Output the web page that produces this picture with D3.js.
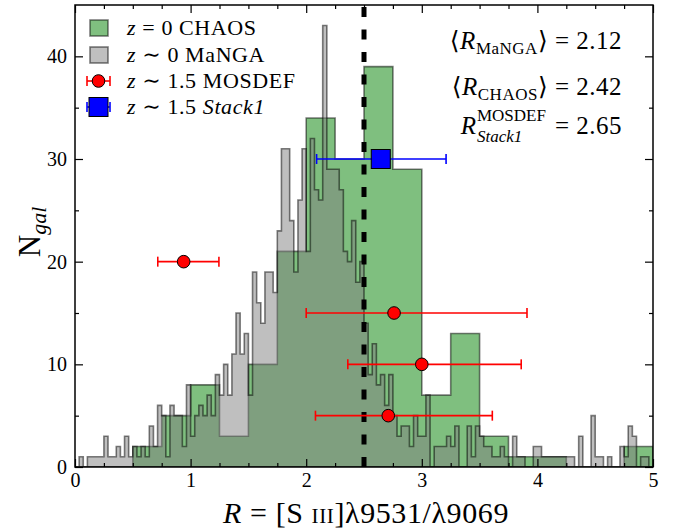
<!DOCTYPE html>
<html>
<head>
<meta charset="utf-8">
<script src="https://cdn.jsdelivr.net/npm/d3@7"></script>
<style>
  body { margin: 0; background: #fff; }
  text { font-family: "Liberation Serif", "DejaVu Serif", serif; }
</style>
</head>
<body>
<div id="chart"></div>
<script>
// histogram data
let chaosWidth = 0.25;
let chaosCounts = [0,0,2,5,8,3,10,21,34,30,39,29,7,13,3,1,1,0,0,2];

let mangaWidth = 5 / 140;
let mangaCounts = [
  0,1,0,1,1,1,1,3,1,1,2,1,3,1,2,1,2,1,4,2,6,5,1,6,5,5,2,8,
  3,5,6,5,7,5,9,7,10,7,11,15,11,13,7,19,16,14,19,19,17,23,31,31,24,19,26,31,
  21,32,27,26,43,29,29,29,27,21,20,24,18,20,14,9,12,8,9,6,9,5,3,4,4,2,5,3,
  3,7,0,2,2,2,3,2,4,0,0,4,1,4,3,2,2,1,1,2,1,0,3,1,1,0,0,2,
  2,1,1,1,1,1,1,1,1,0,3,0,0,5,1,1,0,1,0,0,2,1,4,3,0,1,1,0
];

// z~1.5 points
let mosdefR = [0.94, 2.76, 3.0, 2.71];
let mosdefN = [20, 15, 10, 5];
let mosdefLo = [0.716, 2.0, 2.36, 2.08];
let mosdefHi = [1.245, 3.91, 3.86, 3.61];

let stackR = [2.645];
let stackN = [30];
let stackLo = [2.09];
let stackHi = [3.21];

let meanLine = 2.5;

let svgWidth = 683;
let svgHeight = 531;
let margin = {top: 5, right: 30, bottom: 64, left: 75};
let width = svgWidth - margin.left - margin.right;
let height = svgHeight - margin.top - margin.bottom;

let svg = d3.select("#chart").append("svg")
  .attr("width", svgWidth)
  .attr("height", svgHeight);

let g = svg.append("g")
  .attr("transform", `translate(${margin.left},${margin.top})`);

let x = d3.scaleLinear().domain([0, 5]).range([0, width]);
let y = d3.scaleLinear().domain([0, 45]).range([height, 0]);

// clip
g.append("clipPath").attr("id", "clip")
  .append("rect").attr("width", width).attr("height", height);

// step outline for a histogram
function stepPoints(counts, w) {
  let pts = [[0, 0]];
  counts.forEach((c, i) => {
    pts.push([i * w, c]);
    pts.push([(i + 1) * w, c]);
  });
  pts.push([counts.length * w, 0]);
  return pts;
}

let line = d3.line().x(d => x(d[0])).y(d => y(d[1]));

let plot = g.append("g").attr("clip-path", "url(#clip)");

plot.append("path")
  .attr("d", line(stepPoints(chaosCounts, chaosWidth)) + "Z")
  .attr("fill", "green").attr("fill-opacity", 0.5)
  .attr("stroke", "black").attr("stroke-opacity", 0.5)
  .attr("stroke-width", 1.6);

plot.append("path")
  .attr("d", line(stepPoints(mangaCounts, mangaWidth)) + "Z")
  .attr("fill", "grey").attr("fill-opacity", 0.5)
  .attr("stroke", "black").attr("stroke-opacity", 0.5)
  .attr("stroke-width", 1.6);

// dashed line at the mean
plot.append("line")
  .attr("x1", x(meanLine)).attr("x2", x(meanLine))
  .attr("y1", y(0)).attr("y2", y(45))
  .attr("stroke", "black").attr("stroke-width", 5)
  .attr("stroke-dasharray", "10,12.5");

// error bars
function errorBars(sel, xs, ys, lo, hi, color) {
  xs.forEach((v, i) => {
    let yy = y(ys[i]);
    sel.append("line")
      .attr("x1", x(lo[i])).attr("x2", x(hi[i]))
      .attr("y1", yy).attr("y2", yy)
      .attr("stroke", color).attr("stroke-width", 1.6);
    [lo[i], hi[i]].forEach(e => {
      sel.append("line")
        .attr("x1", x(e)).attr("x2", x(e))
        .attr("y1", yy - 5).attr("y2", yy + 5)
        .attr("stroke", color).attr("stroke-width", 1.6);
    });
  });
}

errorBars(g, mosdefR, mosdefN, mosdefLo, mosdefHi, "red");
errorBars(g, stackR, stackN, stackLo, stackHi, "blue");

g.selectAll(".mosdef").data(mosdefR).enter()
  .append("circle")
  .attr("cx", d => x(d))
  .attr("cy", (d, i) => y(mosdefN[i]))
  .attr("r", 6.3)
  .attr("fill", "red").attr("stroke", "black").attr("stroke-width", 1);

g.selectAll(".stack").data(stackR).enter()
  .append("rect")
  .attr("x", d => x(d) - 9.5)
  .attr("y", (d, i) => y(stackN[i]) - 9.5)
  .attr("width", 19).attr("height", 19)
  .attr("fill", "blue").attr("stroke", "black").attr("stroke-width", 1);

// axes, ticks inward on all four sides
function styleAxis(a) {
  a.select(".domain").remove();
  a.selectAll("line").attr("stroke", "black").attr("stroke-width", 1.2);
  a.selectAll("text").attr("font-size", "20px").attr("fill", "black")
    .style("font-family", "'Liberation Serif', serif");
  a.attr("font-family", null);
}

let xMajor = d3.range(0, 6, 1);
let xMinor = d3.range(0, 5.01, 0.25).filter(v => v % 1 !== 0);
let yMajor = d3.range(0, 41, 10);
let yMinor = d3.range(5, 45, 10);

g.append("g").attr("transform", `translate(0,${height})`)
  .call(d3.axisBottom(x).tickValues(xMajor).tickSizeInner(-8).tickSizeOuter(0).tickPadding(6).tickFormat(d3.format("d")))
  .call(styleAxis);
g.append("g").attr("transform", `translate(0,${height})`)
  .call(d3.axisBottom(x).tickValues(xMinor).tickSizeInner(-4).tickSizeOuter(0).tickFormat(""))
  .call(styleAxis);
g.append("g")
  .call(d3.axisTop(x).tickValues(xMajor).tickSizeInner(-8).tickSizeOuter(0).tickFormat(""))
  .call(styleAxis);
g.append("g")
  .call(d3.axisTop(x).tickValues(xMinor).tickSizeInner(-4).tickSizeOuter(0).tickFormat(""))
  .call(styleAxis);

g.append("g")
  .call(d3.axisLeft(y).tickValues(yMajor).tickSizeInner(-8).tickSizeOuter(0).tickPadding(8).tickFormat(d3.format("d")))
  .call(styleAxis);
g.append("g")
  .call(d3.axisLeft(y).tickValues(yMinor).tickSizeInner(-4).tickSizeOuter(0).tickFormat(""))
  .call(styleAxis);
g.append("g").attr("transform", `translate(${width},0)`)
  .call(d3.axisRight(y).tickValues(yMajor).tickSizeInner(-8).tickSizeOuter(0).tickFormat(""))
  .call(styleAxis);
g.append("g").attr("transform", `translate(${width},0)`)
  .call(d3.axisRight(y).tickValues(yMinor).tickSizeInner(-4).tickSizeOuter(0).tickFormat(""))
  .call(styleAxis);

g.append("rect")
  .attr("width", width).attr("height", height)
  .attr("fill", "none").attr("stroke", "black").attr("stroke-width", 1.5);

// axis labels
let xl = svg.append("text")
  .attr("x", 366).attr("y", 523)
  .attr("text-anchor", "middle")
  .attr("font-size", "30px")
  .attr("letter-spacing", "0.6px");
xl.append("tspan").attr("font-style", "italic").text("R");
xl.append("tspan").text(" = [S ");
xl.append("tspan").attr("font-size", "21px").text("III");
xl.append("tspan").text("]λ9531/λ9069");

let yl = svg.append("text")
  .attr("transform", "translate(40,232) rotate(-90)")
  .attr("text-anchor", "middle")
  .attr("font-size", "31px");
yl.append("tspan").text("N");
yl.append("tspan").attr("font-style", "italic").attr("font-size", "22px").attr("dy", 6).text("gal");

// legend
let leg = svg.append("g");
let rowY = [28, 55, 81, 107];
let labels = [
  [["z", true], [" = 0 CHAOS", false]],
  [["z", true], [" ∼ 0 MaNGA", false]],
  [["z", true], [" ∼ 1.5 MOSDEF", false]],
  [["z", true], [" ∼ 1.5 ", false], ["Stack1", true]]
];
labels.forEach((parts, i) => {
  let t = leg.append("text").attr("x", 127).attr("y", rowY[i] + 7)
    .attr("font-size", "22px").attr("letter-spacing", "0.6px");
  parts.forEach(p => t.append("tspan").attr("font-style", p[1] ? "italic" : "normal").text(p[0]));
});
leg.append("rect").attr("x", 90).attr("y", rowY[0] - 8).attr("width", 18).attr("height", 16)
  .attr("fill", "green").attr("fill-opacity", 0.5).attr("stroke", "black").attr("stroke-opacity", 0.5).attr("stroke-width", 1.6);
leg.append("rect").attr("x", 90).attr("y", rowY[1] - 8).attr("width", 18).attr("height", 16)
  .attr("fill", "grey").attr("fill-opacity", 0.5).attr("stroke", "black").attr("stroke-opacity", 0.5).attr("stroke-width", 1.6);
[[rowY[2], "red"], [rowY[3], "blue"]].forEach(r => {
  leg.append("line").attr("x1", 87).attr("x2", 110).attr("y1", r[0]).attr("y2", r[0])
    .attr("stroke", r[1]).attr("stroke-width", 1.6);
  [87, 110].forEach(cx => leg.append("line").attr("x1", cx).attr("x2", cx)
    .attr("y1", r[0] - 5).attr("y2", r[0] + 5).attr("stroke", r[1]).attr("stroke-width", 1.6));
});
leg.append("circle").attr("cx", 98.5).attr("cy", rowY[2]).attr("r", 6.3)
  .attr("fill", "red").attr("stroke", "black");
leg.append("rect").attr("x", 89).attr("y", rowY[3] - 9.5).attr("width", 19).attr("height", 19)
  .attr("fill", "blue").attr("stroke", "black");

// annotations (right aligned)
let annX = 622;
let annFont = "25px";
let subFont = "17px";
let a1 = svg.append("text").attr("x", annX).attr("y", 49).attr("text-anchor", "end").attr("font-size", annFont).attr("letter-spacing", "0.5px");
a1.append("tspan").text("⟨");
a1.append("tspan").attr("font-style", "italic").text("R");
a1.append("tspan").attr("font-size", subFont).attr("dy", 5).text("MaNGA");
a1.append("tspan").attr("dy", -5).text("⟩ = 2.12");

let a2 = svg.append("text").attr("x", annX).attr("y", 95).attr("text-anchor", "end").attr("font-size", annFont).attr("letter-spacing", "0.5px");
a2.append("tspan").text("⟨");
a2.append("tspan").attr("font-style", "italic").text("R");
a2.append("tspan").attr("font-size", subFont).attr("dy", 5).text("CHAOS");
a2.append("tspan").attr("dy", -5).text("⟩ = 2.42");

let a3 = svg.append("text").attr("x", annX).attr("y", 134).attr("text-anchor", "end")
  .attr("font-size", annFont).attr("letter-spacing", "0.5px").text("= 2.65");
let a3w = a3.node().getComputedTextLength();
let supX = annX - a3w - 9;
let sup = svg.append("text").attr("x", supX).attr("y", 121).attr("font-size", subFont).text("MOSDEF");
let sub = svg.append("text").attr("x", supX).attr("y", 142).attr("font-size", subFont).attr("font-style", "italic").text("Stack1");
let supW = Math.max(sup.node().getComputedTextLength(), sub.node().getComputedTextLength());
sup.attr("x", supX - supW);
sub.attr("x", supX - supW);
svg.append("text").attr("x", supX - supW - 1).attr("y", 134).attr("text-anchor", "end")
  .attr("font-size", annFont).attr("font-style", "italic").text("R");
</script>
</body>
</html>
